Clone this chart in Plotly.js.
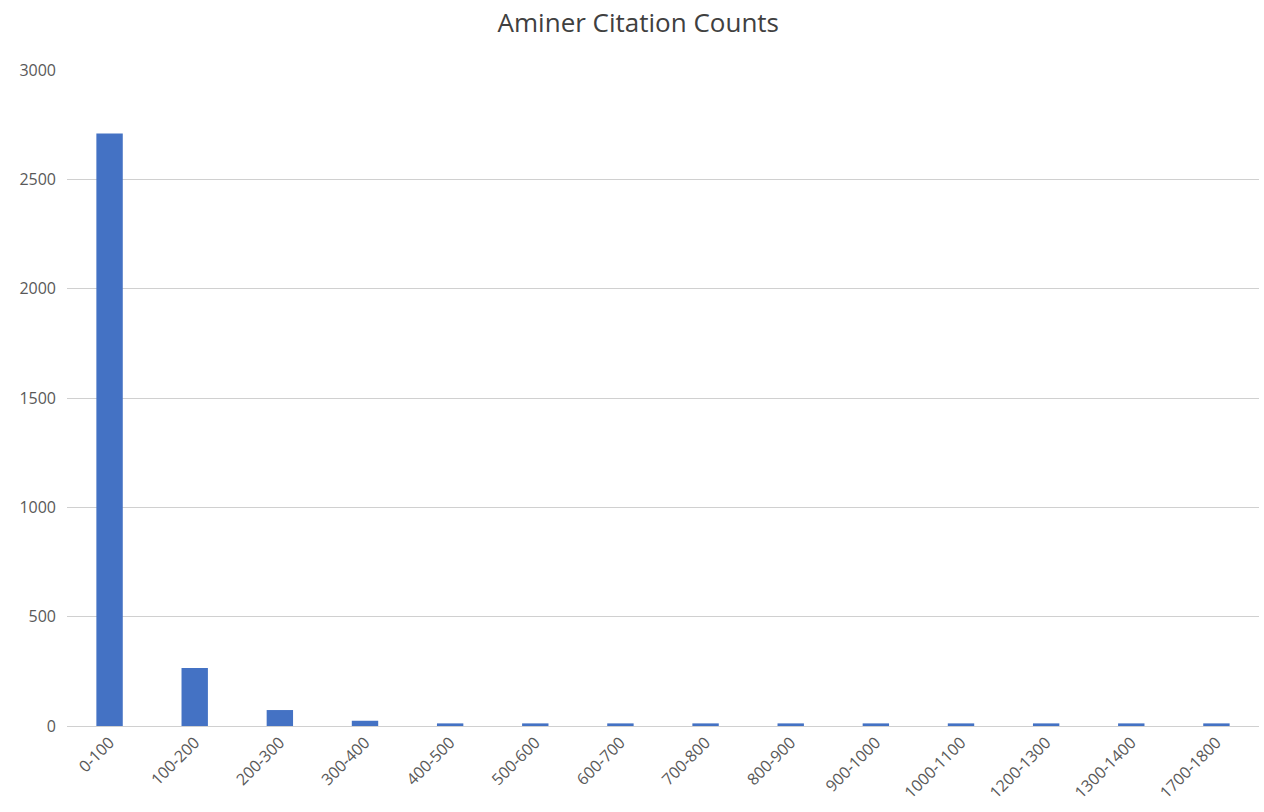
<!DOCTYPE html>
<html>
<head>
<meta charset="utf-8">
<script src="https://cdn.plot.ly/plotly-3.0.1.min.js"></script>
<style>html,body{margin:0;padding:0;background:#fff;}#chart{width:1264px;height:812px;}</style>
</head>
<body>
<div id="chart"></div>
<script>
const categories = ["0-100","100-200","200-300","300-400","400-500","500-600","600-700","700-800","800-900","900-1000","1000-1100","1200-1300","1300-1400","1700-1800"];
const counts = [2710, 265, 73, 24, 12, 12, 12, 12, 12, 12, 12, 12, 12, 12];
const yTicks = [0, 500, 1000, 1500, 2000, 2500, 3000];

Plotly.newPlot('chart', [{
  type: 'bar',
  x: categories,
  y: counts,
  marker: {color: '#4472C4'},
  hoverinfo: 'x+y'
}], {
  width: 1264, height: 812,
  margin: {l: 67, r: 5, t: 70, b: 86},
  paper_bgcolor: '#fff', plot_bgcolor: '#fff',
  bargap: 0.69,
  title: {text: 'Aminer Citation Counts', x: 0.505, xanchor: 'center', y: 0.972, yanchor: 'middle',
          font: {family: 'Open Sans, sans-serif', size: 26, color: '#404040'}},
  font: {family: 'Open Sans, sans-serif', color: '#595959'},
  xaxis: {type: 'category', tickangle: -45, tickfont: {size: 16, color: '#595959'},
          showline: true, linecolor: '#d0d0d0', linewidth: 1, ticks: '', showgrid: false},
  yaxis: {range: [0, 3000], tickvals: yTicks, ticktext: yTicks.map(String),
          tickfont: {size: 16, color: '#595959'}, gridcolor: '#d0d0d0', gridwidth: 1,
          zeroline: false, ticks: '', ticklabelstandoff: 10},
  showlegend: false
}, {displayModeBar: false, staticPlot: true});
</script>
</body>
</html>
